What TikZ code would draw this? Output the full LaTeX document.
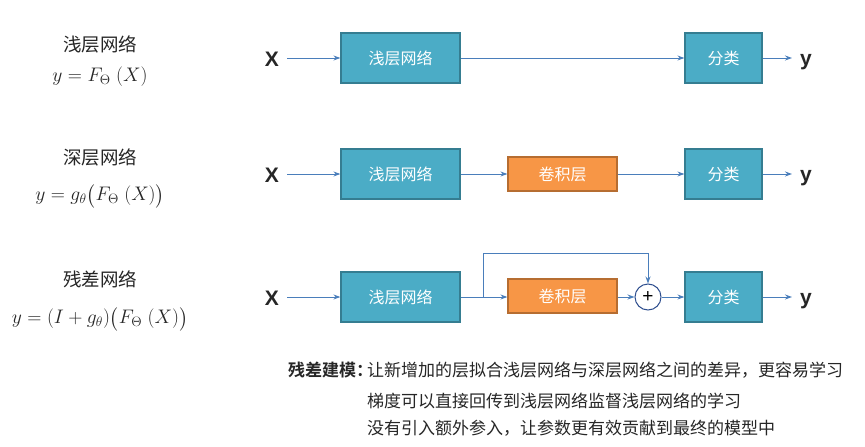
\documentclass[tikz,border=0pt]{standalone}
\usepackage{fontspec}
\usepackage{amsmath}
\usepackage{graphicx}
\setmainfont{Liberation Sans}
\newfontfamily\cjk{Noto Sans CJK SC}
\newfontfamily\cjkbold{Noto Sans CJK SC Bold}
\usetikzlibrary{arrows.meta}
\definecolor{tealfill}{HTML}{4BACC6}
\definecolor{tealedge}{HTML}{357D91}
\definecolor{orangefill}{HTML}{F79646}
\definecolor{orangeedge}{HTML}{B66D31}
\definecolor{flowline}{HTML}{4A7EBB}
\definecolor{ringedge}{HTML}{2F4F8F}
\definecolor{inktext}{HTML}{262626}
\newcommand{\fml}[1]{\scalebox{0.945}{$#1$}}
\begin{document}
\begin{tikzpicture}[x=1pt,y=-1pt,
  netbox/.style={draw=tealedge,line width=1.2pt,fill=tealfill,text=white,
    minimum width=119pt,minimum height=50pt,inner sep=0pt,
    font=\cjk\fontsize{16}{18}\selectfont},
  clsbox/.style={netbox,minimum width=77pt},
  convbox/.style={draw=orangeedge,line width=1.2pt,fill=orangefill,text=white,
    minimum width=109pt,minimum height=34pt,inner sep=0pt,
    font=\cjk\fontsize{16}{18}\selectfont},
  sumnode/.style={circle,draw=ringedge,line width=1pt,fill=white,text=black,
    minimum size=26pt,inner sep=0pt,font=\fontsize{19}{19}\selectfont},
  io/.style={font=\bfseries\fontsize{21}{21}\selectfont,text=inktext,inner sep=0pt},
  title/.style={font=\cjk\fontsize{18.5}{20}\selectfont,text=inktext,inner sep=0pt},
  formula/.style={font=\fontsize{20}{22}\selectfont,text=inktext,inner sep=0pt},
  note/.style={font=\cjk\fontsize{17}{20}\selectfont,text=inktext,inner sep=0pt,anchor=west},
  flow/.style={draw=flowline,line width=1pt,-{Stealth[length=7pt,width=5pt]}}
]
\useasboundingbox (0,0) rectangle (865,447);
\fill[white] (0,0) rectangle (865,447);

% left column: network names and formulas
\node[title] (t1) at (100,44) {浅层网络};
\node[formula] (f1) at (100,77) {\fml{y = F_{\Theta}\;(X)}};
\node[title] (t2) at (100,157) {深层网络};
\node[formula] (f2) at (100,196) {\fml{y = g_{\theta}\big(F_{\Theta}\;(X)\big)}};
\node[title] (t3) at (100,279) {残差网络};
\node[formula] (f3) at (100,319) {\fml{y = (I + g_{\theta})\big(F_{\Theta}\;(X)\big)}};

% row 1: shallow network
\node[io] (x1) at (272,59) {X};
\node[netbox] (s1) at (400.5,58) {浅层网络};
\node[clsbox] (c1) at (723.5,58) {分类};
\node[io] (y1) at (806,62) {y};
\coordinate (x1o) at (287,58);
\draw[flow] (x1o) -- (s1.west);
\draw[flow] (s1.east) -- (c1.west);
\draw[flow] (c1.east) -- (792,58);

% row 2: deep network
\node[io] (x2) at (272,175) {X};
\node[netbox] (s2) at (400.5,174) {浅层网络};
\node[convbox] (v2) at (562.5,174) {卷积层};
\node[clsbox] (c2) at (723.5,174) {分类};
\node[io] (y2) at (806,178) {y};
\coordinate (x2o) at (287,174);
\draw[flow] (x2o) -- (s2.west);
\draw[flow] (s2.east) -- (v2.west);
\draw[flow] (v2.east) -- (c2.west);
\draw[flow] (c2.east) -- (792,174);

% row 3: residual network
\node[io] (x3) at (272,298) {X};
\node[netbox] (s3) at (400.5,297) {浅层网络};
\node[convbox] (v3) at (562.5,296) {卷积层};
\node[sumnode] (p3) at (648,297) {+};
\node[clsbox] (c3) at (723.5,297) {分类};
\node[io] (y3) at (806,301) {y};
\coordinate (x3o) at (287,297);
\coordinate (br) at (483,297);
\draw[flow] (x3o) -- (s3.west);
\draw[flow] (s3.east) -- (v3.west |- s3.east);
\draw[flow] (br) -- (483,253) -- (p3.north |- 0,253) -- (p3.north);
\draw[flow] (v3.east |- p3.west) -- (p3.west);
\draw[flow] (p3.east) -- (c3.west);
\draw[flow] (c3.east) -- (792,297);

% notes on residual modelling
\node[note,font=\cjkbold\fontsize{17}{20}\selectfont] (nh) at (288,370) {残差建模：};
\node[note] (n1) at (367,370) {让新增加的层拟合浅层网络与深层网络之间的差异，更容易学习};
\node[note] (n2) at (367,401) {梯度可以直接回传到浅层网络监督浅层网络的学习};
\node[note] (n3) at (367,428) {没有引入额外参入，让参数更有效贡献到最终的模型中};
\end{tikzpicture}
\end{document}
